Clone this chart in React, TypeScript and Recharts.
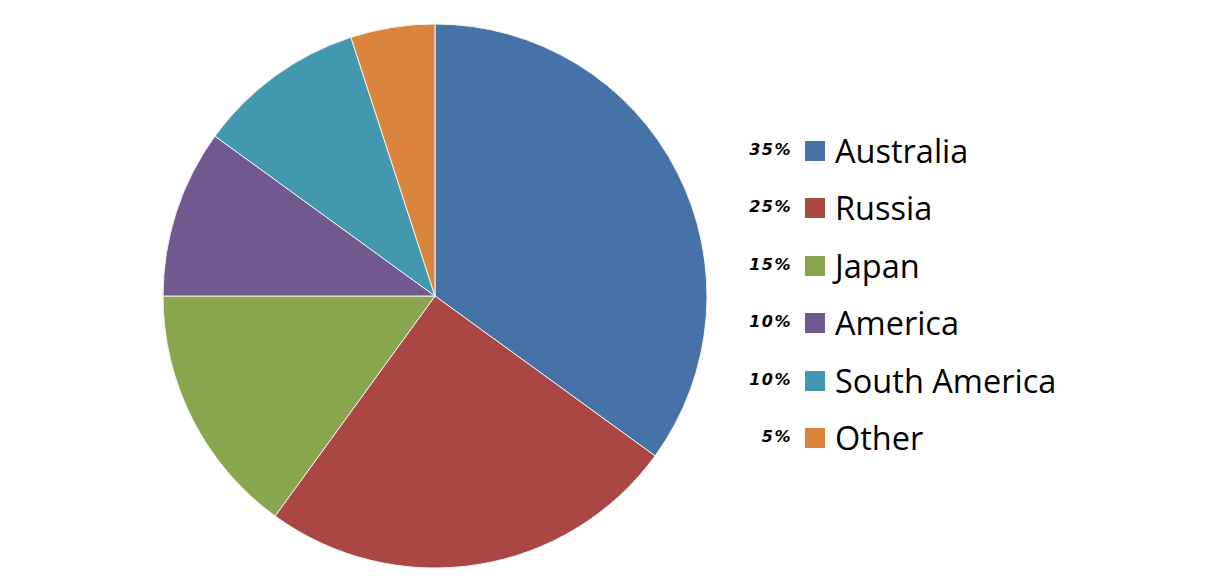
import React from 'react';
import { PieChart, Pie, Cell, Legend } from 'recharts';

// Share by country
const countries = ['Australia', 'Russia', 'Japan', 'America', 'South America', 'Other'];
const shares = [35, 25, 15, 10, 10, 5];
const colors = ['#4572A7', '#AA4643', '#89A54E', '#71588F', '#4198AF', '#DB843D'];

const data = countries.map((name, i) => ({ name, value: shares[i] }));

const LegendBox = () => (
  <div style={{ width: 360 }}>
    {countries.map((name, i) => (
      <div key={name} style={{ display: 'flex', alignItems: 'center', height: 57.5 }}>
        <span
          style={{
            width: 56,
            textAlign: 'right',
            fontFamily: 'DejaVu Sans',
            fontWeight: 'bold',
            fontStyle: 'italic',
            fontSize: 16,
            letterSpacing: 1.5,
            color: '#000',
            marginTop: -3,
          }}
        >
          {shares[i]}%
        </span>
        <span style={{ width: 20, height: 20, background: colors[i], marginLeft: 13, marginRight: 10, flexShrink: 0 }} />
        <span style={{ fontFamily: 'Open Sans', fontSize: 32.5, color: '#000', lineHeight: 1, whiteSpace: 'nowrap' }}>
          {name}
        </span>
      </div>
    ))}
  </div>
);

export default function App() {
  return (
    <PieChart width={1204} height={564}>
      <Pie
        data={data}
        dataKey="value"
        nameKey="name"
        cx={422}
        cy={283}
        outerRadius={272}
        startAngle={90}
        endAngle={-270}
        stroke="#f2f2f2"
        strokeWidth={1}
        isAnimationActive={false}
      >
        {data.map((d, i) => (
          <Cell key={d.name} fill={colors[i]} />
        ))}
      </Pie>
      <Legend content={<LegendBox />} wrapperStyle={{ left: 728, top: 114, width: 360 }} />
    </PieChart>
  );
}
